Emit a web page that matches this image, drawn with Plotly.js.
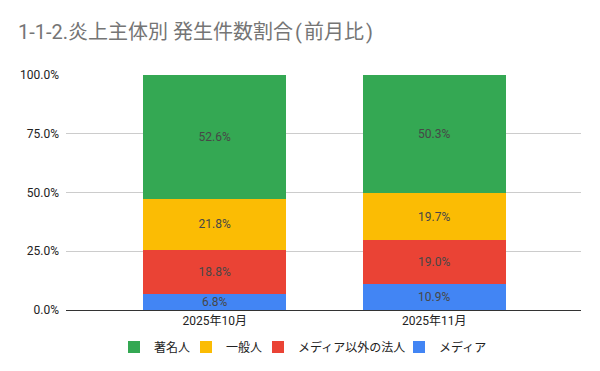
<!DOCTYPE html>
<html>
<head>
<meta charset="utf-8">
<script src="https://cdn.plot.ly/plotly-3.0.1.min.js"></script>
<style>html,body{margin:0;padding:0;background:#fff;}#chart{width:600px;height:371px;}</style>
</head>
<body>
<div id="chart"></div>
<script>
var categories = ["2025年10月", "2025年11月"];
var seriesNames = ["メディア", "メディア以外の法人", "一般人", "著名人"];
var media = [6.8, 10.9];
var corporate = [18.8, 19.0];
var general = [21.8, 19.7];
var celebrity = [52.6, 50.3];
var colors = ["#4285f4", "#ea4335", "#fbbc04", "#34a853"];
var yTickVals = [0, 25, 50, 75, 100];
var yTickText = ["0.0%", "25.0%", "50.0%", "75.0%", "100.0%"];

var values = [media, corporate, general, celebrity];
var font = "Roboto, 'Noto Sans CJK JP', sans-serif";
// legend entries laid out left to right: 著名人, 一般人, メディア以外の法人, メディア
var legendIds = ["legend4", "legend3", "legend2", "legend"];
var legendLeft = [415, 274, 202, 130];
var symOffset = 16;

var traces = values.map(function (v, i) {
  return {
    type: "bar",
    name: seriesNames[i],
    legend: legendIds[i],
    x: categories,
    y: v,
    width: 0.653,
    marker: {color: colors[i], line: {width: 0}},
    text: v.map(function (d) { return d.toFixed(1) + "%"; }),
    textposition: "inside",
    insidetextanchor: "middle",
    constraintext: "none",
    textfont: {family: font, size: 12, color: "#474747"},
    hoverinfo: "skip"
  };
});

var layout = {
  width: 600,
  height: 371,
  barmode: "stack",
  margin: {l: 66, r: 19, t: 75, b: 61},
  paper_bgcolor: "#fff",
  plot_bgcolor: "#fff",
  font: {family: font, color: "#222"},
  title: {
    text: "1-1-2.炎上主体別 発生件数割合\u200A(\u200A前月比\u200A)",
    x: 18 / 600, xanchor: "left", xref: "container",
    y: 1 - 32 / 371, yanchor: "middle", yref: "container",
    font: {family: font, size: 20, color: "#757575"}
  },
  xaxis: {
    type: "category",
    range: [-0.678, 1.669],
    showgrid: false,
    showline: true,
    linecolor: "#333",
    linewidth: 1,
    ticks: "",
    tickfont: {family: font, size: 12, color: "#222"},
    fixedrange: true
  },
  yaxis: {
    range: [0, 100],
    tickvals: yTickVals,
    ticktext: yTickText,
    showgrid: true,
    gridcolor: "#cccccc",
    gridwidth: 1,
    zeroline: false,
    showline: false,
    ticks: "",
    ticklabelstandoff: 6,
    tickfont: {family: font, size: 12, color: "#222"},
    fixedrange: true
  },
  showlegend: true
};

legendIds.forEach(function (id, i) {
  layout[id] = {
    orientation: "h",
    xref: "container", x: (legendLeft[i] - symOffset) / 600, xanchor: "left",
    yref: "container", y: 1 - 347 / 371, yanchor: "middle",
    font: {family: font, size: 12, color: "#222"},
    bgcolor: "rgba(0,0,0,0)",
    itemwidth: 30
  };
});

Plotly.newPlot("chart", traces, layout, {staticPlot: true, displayModeBar: false});
</script>
</body>
</html>
